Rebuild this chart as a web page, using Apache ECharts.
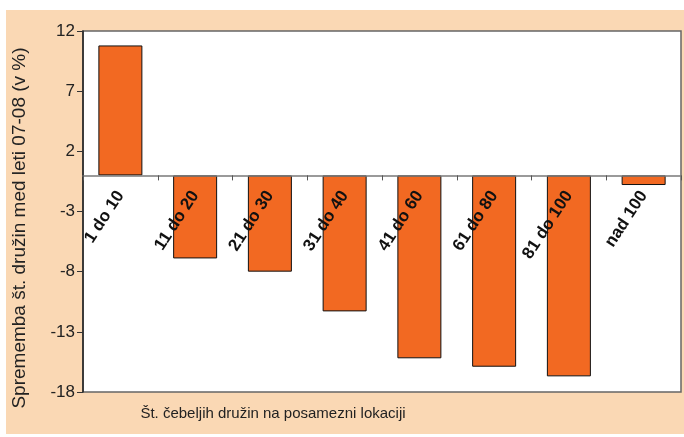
<!DOCTYPE html>
<html>
<head>
<meta charset="utf-8">
<script src="https://cdn.jsdelivr.net/npm/echarts@6/dist/echarts.min.js"></script>
<style>
  html, body { margin: 0; padding: 0; background: #fff; }
  #chart { width: 684px; height: 437px; }
</style>
</head>
<body>
<div id="chart"></div>
<script>
// categories and values
const categories = ['1 do 10', '11 do 20', '21 do 30', '31 do 40', '41 do 60', '61 do 80', '81 do 100', 'nad 100']
const changes = [10.8, -6.9, -8.0, -11.3, -15.2, -15.9, -16.7, -0.8]
const yTicks = [-18, -13, -8, -3, 2, 7, 12]

const yTitle = 'Sprememba št. družin med leti 07-08 (v %)'
const xTitle = 'Št. čebeljih družin na posamezni lokaciji'

const gridTop = 31
const gridBottom = 45
const plotHeight = 437 - gridTop - gridBottom
const yMin = yTicks[0]
const yMax = yTicks[yTicks.length - 1]
// lift the category axis from the grid bottom up to the zero line
const zeroOffset = -plotHeight * (0 - yMin) / (yMax - yMin)

let chart = echarts.init(document.getElementById('chart'))

let option = {
  backgroundColor: '#fff',
  animation: false,
  graphic: [
    {
      type: 'rect',
      z: -10,
      shape: { x: 6, y: 10, width: 678, height: 424 },
      style: { fill: '#FAD8B4' }
    },
    {
      type: 'text',
      x: 20,
      y: 228,
      rotation: Math.PI / 2,
      style: {
        text: yTitle,
        fill: '#222',
        font: '19px Arial, "Liberation Sans", sans-serif',
        align: 'center',
        verticalAlign: 'middle'
      }
    },
    {
      type: 'text',
      x: 273,
      y: 414,
      style: {
        text: xTitle,
        fill: '#222',
        font: '15px Arial, "Liberation Sans", sans-serif',
        align: 'center',
        verticalAlign: 'middle'
      }
    }
  ],
  grid: {
    left: 83,
    top: gridTop,
    right: 3,
    bottom: gridBottom,
    outerBoundsMode: 'none',
    containLabel: false,
    show: true,
    backgroundColor: '#fff',
    borderColor: '#666',
    borderWidth: 1.5
  },
  xAxis: {
    type: 'category',
    data: categories,
    position: 'bottom',
    offset: zeroOffset,
    z: 10,
    axisLine: { onZero: false, lineStyle: { color: '#7a7a7a', width: 1.5 } },
    axisTick: { show: true, length: 5, lineStyle: { color: '#555' } },
    axisLabel: {
      rotate: 57,
      interval: 0,
      margin: 17,
      color: '#111',
      fontWeight: 'bold',
      fontSize: 17,
      fontFamily: 'Arial, "Liberation Sans", sans-serif'
    }
  },
  yAxis: {
    type: 'value',
    min: yMin,
    max: yMax,
    interval: 5,
    splitLine: { show: false },
    axisLine: { show: true, lineStyle: { color: '#222', width: 1.5 } },
    axisTick: { show: true, length: 6, lineStyle: { color: '#333' } },
    axisLabel: {
      color: '#222',
      fontSize: 17,
      margin: 8,
      fontFamily: 'Arial, "Liberation Sans", sans-serif'
    }
  },
  series: [
    {
      type: 'bar',
      data: changes,
      barWidth: 44,
      z: 2,
      itemStyle: {
        color: '#F26922',
        borderColor: '#111',
        borderWidth: 1
      }
    }
  ]
}

chart.setOption(option)
</script>
</body>
</html>
